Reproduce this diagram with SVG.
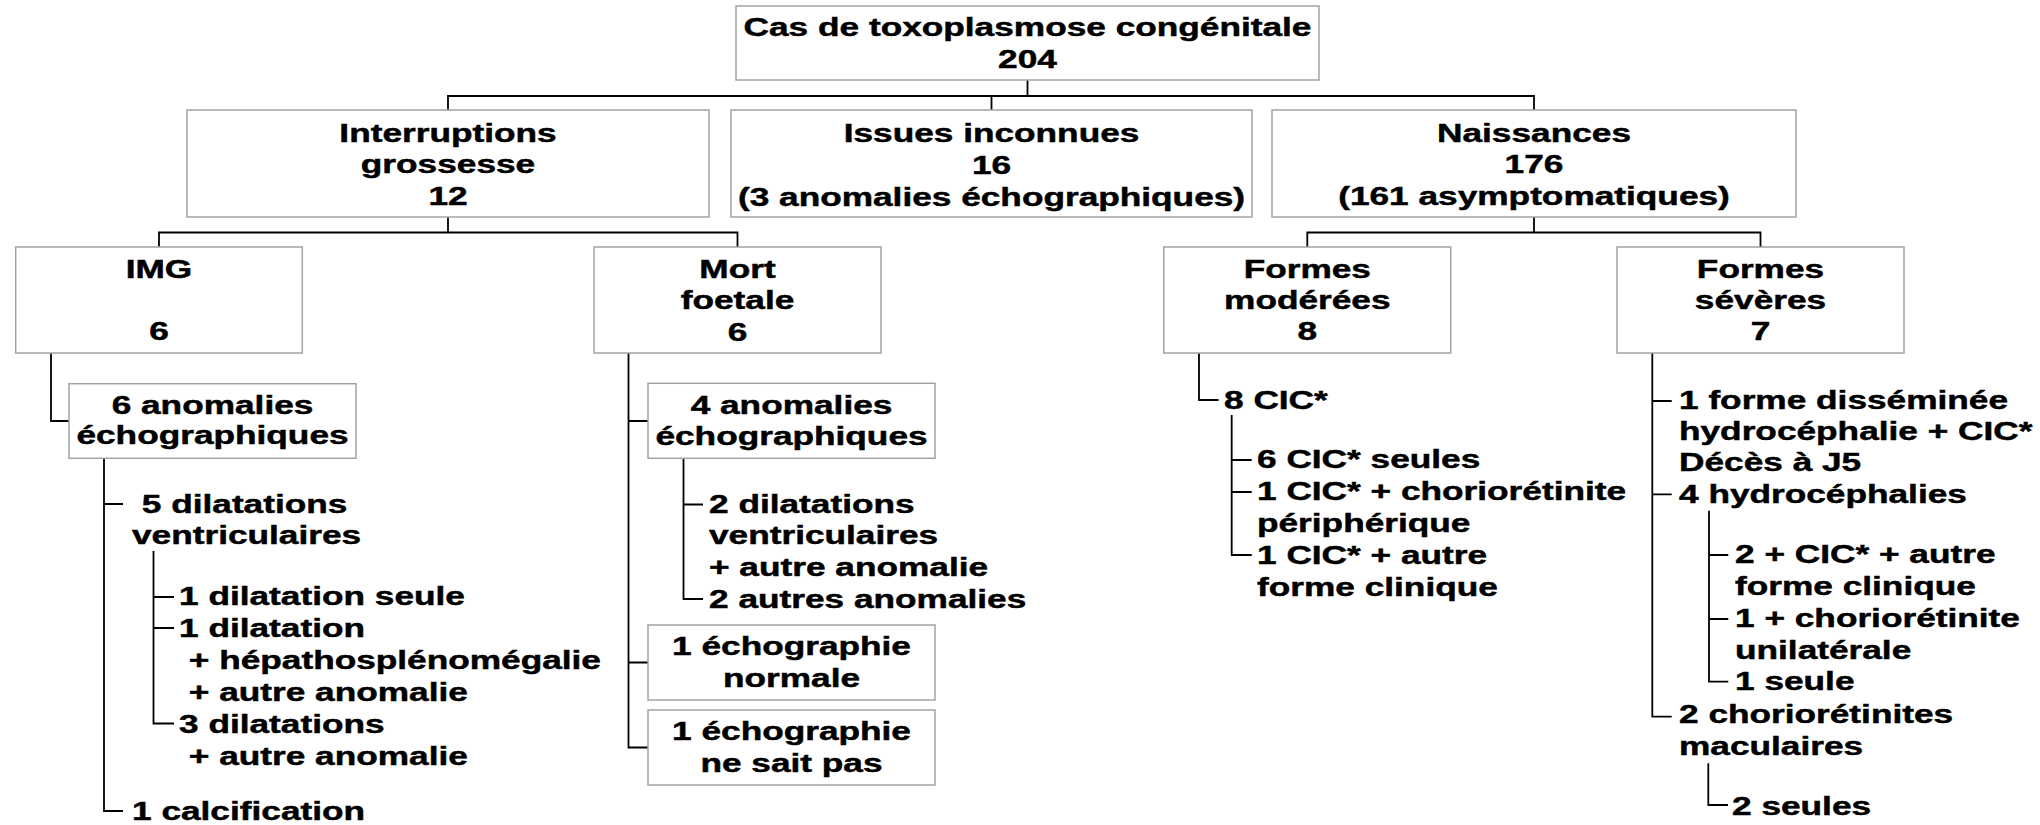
<svg xmlns="http://www.w3.org/2000/svg" width="2040" height="825" viewBox="0 0 2040 825">
<style>
.box{fill:#fff;stroke:#a3a3a3;stroke-width:1.5}
.t{font-family:"Liberation Sans",Arial,sans-serif;font-weight:bold;font-size:25px;fill:#000;stroke:#000;stroke-width:0.45}
.m{text-anchor:middle}
#connectors path{fill:none;stroke:#000;stroke-width:1.8}
</style>
<rect width="2040" height="825" fill="#fff"/>
<g id="connectors">
<path d="M1027.5 80V96M448 110V96H1534V110M991.5 96V110"/>
<path d="M448 217V232.5M159 247V232.5H737.5V247"/>
<path d="M1534 217V232.5M1307.3 247V232.5H1760.5V247"/>
<path d="M51 353V421H69"/>
<path d="M104 458V811H123M104 504H123"/>
<path d="M153.5 551V723.5H174M153.5 597H174M153.5 628H174"/>
<path d="M628.5 353V747.5H648M628.5 421H648M628.5 662.5H648"/>
<path d="M683.5 458V599H703M683.5 504.5H703"/>
<path d="M1199 353V400H1218.5"/>
<path d="M1231.7 415V555H1251.7M1231.7 460H1251.7M1231.7 492H1251.7"/>
<path d="M1652.3 353V716.7H1671.7M1652.3 401H1671.7M1652.3 494.3H1671.7"/>
<path d="M1709 510.7V681.7H1728.3M1709 555H1728.3M1709 619H1728.3"/>
<path d="M1708.3 763.3V805H1728"/>
</g>
<g id="root">
<rect class="box" x="736" y="6" width="583" height="74"/>
<text class="t m" transform="translate(1027.5 36) scale(1.41 1)"><tspan x="0" y="0">Cas de toxoplasmose congénitale</tspan><tspan x="0" y="32">204</tspan></text>
</g>
<g id="interruptions">
<rect class="box" x="187" y="110" width="522" height="107"/>
<text class="t m" transform="translate(448 142) scale(1.41 1)"><tspan x="0" y="0">Interruptions</tspan><tspan x="0" y="31.5">grossesse</tspan><tspan x="0" y="63">12</tspan></text>
</g>
<g id="issues">
<rect class="box" x="731" y="110" width="521" height="107"/>
<text class="t m" transform="translate(991.5 142) scale(1.41 1)"><tspan x="0" y="0">Issues inconnues</tspan><tspan x="0" y="32">16</tspan><tspan x="0" y="64">(3 anomalies échographiques)</tspan></text>
</g>
<g id="naissances">
<rect class="box" x="1272" y="110" width="524" height="107"/>
<text class="t m" transform="translate(1534 142) scale(1.41 1)"><tspan x="0" y="0">Naissances</tspan><tspan x="0" y="31.5">176</tspan><tspan x="0" y="63">(161 asymptomatiques)</tspan></text>
</g>
<g id="img">
<rect class="box" x="15.7" y="247" width="286.6" height="106"/>
<text class="t m" transform="translate(159 278) scale(1.41 1)"><tspan x="0" y="0">IMG</tspan><tspan x="0" y="62">6</tspan></text>
</g>
<g id="mort">
<rect class="box" x="594" y="247" width="287" height="106"/>
<text class="t m" transform="translate(737.5 278) scale(1.41 1)"><tspan x="0" y="0">Mort</tspan><tspan x="0" y="31.5">foetale</tspan><tspan x="0" y="63">6</tspan></text>
</g>
<g id="moderees">
<rect class="box" x="1163.8" y="247" width="287" height="106"/>
<text class="t m" transform="translate(1307.3 277.5) scale(1.41 1)"><tspan x="0" y="0">Formes</tspan><tspan x="0" y="31.5">modérées</tspan><tspan x="0" y="63">8</tspan></text>
</g>
<g id="severes">
<rect class="box" x="1617" y="247" width="287" height="106"/>
<text class="t m" transform="translate(1760.5 278) scale(1.41 1)"><tspan x="0" y="0">Formes</tspan><tspan x="0" y="31.5">sévères</tspan><tspan x="0" y="62.5">7</tspan></text>
</g>
<g id="anom6">
<rect class="box" x="69" y="383.7" width="287" height="74.6"/>
<text class="t m" transform="translate(212.5 413.5) scale(1.41 1)"><tspan x="0" y="0">6 anomalies</tspan><tspan x="0" y="31">échographiques</tspan></text>
</g>
<g id="anom4">
<rect class="box" x="648" y="383.3" width="287" height="75"/>
<text class="t m" transform="translate(791.5 413.5) scale(1.41 1)"><tspan x="0" y="0">4 anomalies</tspan><tspan x="0" y="31.5">échographiques</tspan></text>
</g>
<g id="echo-normale">
<rect class="box" x="648" y="625" width="287" height="75"/>
<text class="t m" transform="translate(791.5 655) scale(1.41 1)"><tspan x="0" y="0">1 échographie</tspan><tspan x="0" y="32">normale</tspan></text>
</g>
<g id="echo-nsp">
<rect class="box" x="648" y="710" width="287" height="75"/>
<text class="t m" transform="translate(791.5 740) scale(1.41 1)"><tspan x="0" y="0">1 échographie</tspan><tspan x="0" y="32">ne sait pas</tspan></text>
</g>
<g id="dilatations5">
<text class="t" transform="translate(132 512.7) scale(1.41 1)"><tspan x="6.95" y="0">5 dilatations</tspan><tspan x="0" y="31.5">ventriculaires</tspan></text>
</g>
<g id="dilatations5-detail">
<text class="t" transform="translate(179 605) scale(1.41 1)"><tspan x="0" y="0">1 dilatation seule</tspan><tspan x="0" y="32">1 dilatation</tspan><tspan x="6.95" y="64">+ hépathosplénomégalie</tspan><tspan x="6.95" y="96">+ autre anomalie</tspan><tspan x="0" y="128">3 dilatations</tspan><tspan x="6.95" y="160">+ autre anomalie</tspan></text>
</g>
<g id="calcification">
<text class="t" transform="translate(132 820) scale(1.41 1)">1 calcification</text>
</g>
<g id="anom4-detail">
<text class="t" transform="translate(709 512.5) scale(1.41 1)"><tspan x="0" y="0">2 dilatations</tspan><tspan x="0" y="32">ventriculaires</tspan><tspan x="0" y="64">+ autre anomalie</tspan><tspan x="0" y="96">2 autres anomalies</tspan></text>
</g>
<g id="cic8">
<text class="t" transform="translate(1224 409.3) scale(1.41 1)">8 CIC*</text>
</g>
<g id="cic8-detail">
<text class="t" transform="translate(1257 468) scale(1.41 1)"><tspan x="0" y="0">6 CIC* seules</tspan><tspan x="0" y="32">1 CIC* + choriorétinite</tspan><tspan x="0" y="64">périphérique</tspan><tspan x="0" y="96">1 CIC* + autre</tspan><tspan x="0" y="128">forme clinique</tspan></text>
</g>
<g id="severes-detail">
<text class="t" transform="translate(1679 409.3) scale(1.41 1)"><tspan x="0" y="0">1 forme disséminée</tspan><tspan x="0" y="31">hydrocéphalie + CIC*</tspan><tspan x="0" y="62">Décès à J5</tspan><tspan x="0" y="93.5">4 hydrocéphalies</tspan></text>
</g>
<g id="hydro-detail">
<text class="t" transform="translate(1735 562.7) scale(1.41 1)"><tspan x="0" y="0">2 + CIC* + autre</tspan><tspan x="0" y="32">forme clinique</tspan><tspan x="0" y="64.5">1 + choriorétinite</tspan><tspan x="0" y="96">unilatérale</tspan><tspan x="0" y="127.5">1 seule</tspan></text>
</g>
<g id="maculaires">
<text class="t" transform="translate(1679 723.3) scale(1.41 1)"><tspan x="0" y="0">2 choriorétinites</tspan><tspan x="0" y="31.7">maculaires</tspan></text>
</g>
<g id="seules2">
<text class="t" transform="translate(1732 815) scale(1.41 1)">2 seules</text>
</g>
</svg>
